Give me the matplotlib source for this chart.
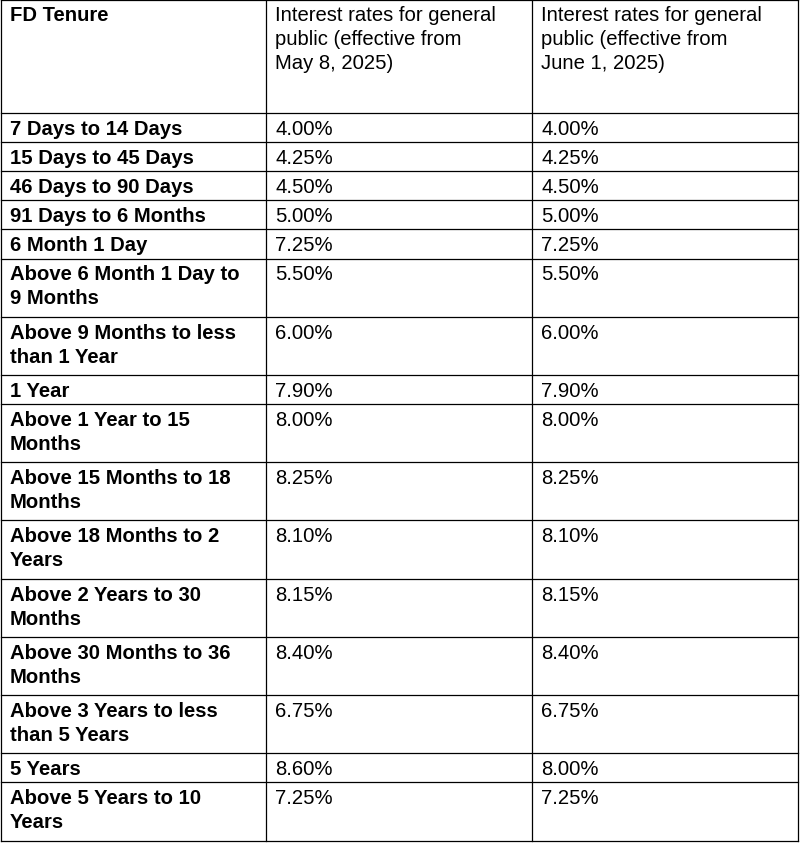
import matplotlib
matplotlib.use("Agg")
import matplotlib.pyplot as plt

headers = ["FD Tenure",
           "Interest rates for general\npublic (effective from\nMay 8, 2025)",
           "Interest rates for general\npublic (effective from\nJune 1, 2025)"]
tenures = ["7 Days to 14 Days", "15 Days to 45 Days", "46 Days to 90 Days",
           "91 Days to 6 Months", "6 Month 1 Day", "Above 6 Month 1 Day to\n9 Months",
           "Above 9 Months to less\nthan 1 Year", "1 Year", "Above 1 Year to 15\nMonths",
           "Above 15 Months to 18\nMonths", "Above 18 Months to 2\nYears",
           "Above 2 Years to 30\nMonths", "Above 30 Months to 36\nMonths",
           "Above 3 Years to less\nthan 5 Years", "5 Years", "Above 5 Years to 10\nYears"]
rates_may = ["4.00%", "4.25%", "4.50%", "5.00%", "7.25%", "5.50%", "6.00%", "7.90%",
             "8.00%", "8.25%", "8.10%", "8.15%", "8.40%", "6.75%", "8.60%", "7.25%"]
rates_june = ["4.00%", "4.25%", "4.50%", "5.00%", "7.25%", "5.50%", "6.00%", "7.90%",
              "8.00%", "8.25%", "8.10%", "8.15%", "8.40%", "6.75%", "8.00%", "7.25%"]

W, H = 801, 845
fig = plt.figure(figsize=(W/100, H/100), dpi=100)
ax = fig.add_axes([0, 0, 1, 1])
ax.set_xlim(0, W); ax.set_ylim(H, 0); ax.axis("off")

col_x = [1, 266, 532, 798]
header_h = 113
line_h = 29.1
y = 1
bounds = [y, y + header_h]
for t in tenures:
    n = t.count("\n") + 1
    bounds.append(bounds[-1] + line_h * n)

fs = 14.6
fam = "Liberation Sans"
for yy in bounds:
    ax.plot([col_x[0], col_x[-1]], [yy, yy], color="black", lw=0.9)
for xx in col_x:
    ax.plot([xx, xx], [bounds[0], bounds[-1]], color="black", lw=0.9)

for j, h in enumerate(headers):
    ax.text(col_x[j] + 9, bounds[0] + 5, h, fontsize=fs, family=fam, va="top",
            fontweight="bold" if j == 0 else "normal", linespacing=1.33)
for i, t in enumerate(tenures):
    top = bounds[i + 1] + 6
    ax.text(col_x[0] + 9, top, t, fontsize=fs, family=fam, fontweight="bold",
            va="top", linespacing=1.33)
    ax.text(col_x[1] + 9, top, rates_may[i], fontsize=fs, family=fam, va="top")
    ax.text(col_x[2] + 9, top, rates_june[i], fontsize=fs, family=fam, va="top")

fig.savefig("out.png", dpi=100, facecolor="white")
